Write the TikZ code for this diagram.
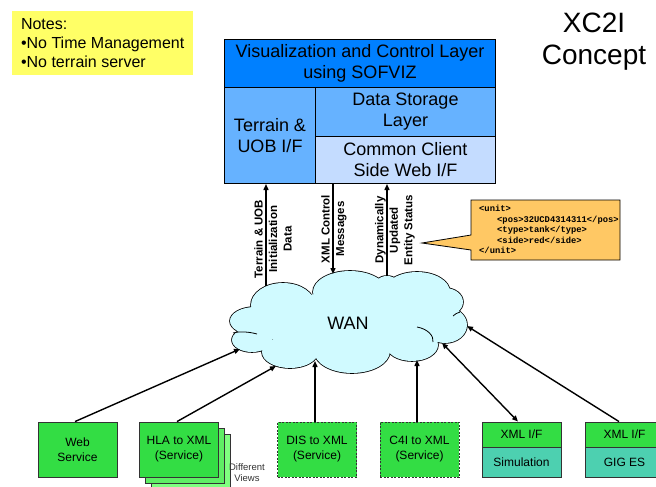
\documentclass[tikz,border=0pt]{standalone}
\usepackage{fontspec}
\setmainfont{Liberation Sans}
\newfontfamily\codefont{Liberation Mono}
\usetikzlibrary{arrows.meta}
\definecolor{vizblue}{RGB}{0,128,255}
\definecolor{midblue}{RGB}{102,178,255}
\definecolor{paleblue}{RGB}{196,220,255}
\definecolor{noteyellow}{RGB}{255,255,102}
\definecolor{boxgreen}{RGB}{51,221,68}
\definecolor{greentwo}{RGB}{95,238,100}
\definecolor{greenthree}{RGB}{128,255,128}
\definecolor{tealbox}{RGB}{77,208,176}
\definecolor{cloudcyan}{RGB}{208,250,255}
\definecolor{calloutorange}{RGB}{255,200,100}
\begin{document}
\begin{tikzpicture}[x=1pt,y=-1pt,
  layer/.style={draw=black, line width=1pt, align=center, inner sep=0pt,
    font=\fontsize{18}{21}\selectfont, anchor=north west},
  gbox/.style={draw=black!80, line width=0.9pt, fill=boxgreen, minimum width=79pt,
    minimum height=55pt, align=center, inner sep=0pt, font=\fontsize{12}{15}\selectfont},
  dashbox/.style={gbox, dash pattern=on 2pt off 1.5pt},
  vlabel/.style={rotate=90, align=center, inner sep=0pt,
    font=\bfseries\fontsize{11.5}{14.5}\selectfont},
  arr/.style={line width=1.4pt, -{Triangle[length=6pt,width=5pt]}},
  darr/.style={line width=1.4pt, {Triangle[length=6pt,width=5pt]}-{Triangle[length=6pt,width=5pt]}}
]
\useasboundingbox (0,0) rectangle (656,487);

% notes
\node[fill=noteyellow, anchor=north west, minimum width=181pt, minimum height=64pt,
  inner sep=0pt, align=left,
  font=\fontsize{16}{19}\selectfont] (notes) at (12,11)
  {Notes:\\•No Time Management\\•No terrain server};

% title
\node[anchor=north, inner sep=0pt, align=center, font=\fontsize{28}{32}\selectfont]
  (title) at (594,13) {XC2I\\Concept};

% top stack
\node[layer, fill=vizblue, minimum width=271pt, minimum height=48pt] (viz) at (224,39)
  {Visualization and Control Layer\\using SOFVIZ};
\node[layer, fill=midblue, minimum width=91pt, minimum height=96pt] (terrain) at (224,87)
  {Terrain \&\\UOB I/F};
\node[layer, fill=midblue, minimum width=180pt, minimum height=49pt] (data) at (315,87)
  {Data Storage\\Layer};
\node[layer, fill=paleblue, minimum width=180pt, minimum height=47pt] (common) at (315,136)
  {Common Client\\Side Web I/F};

% cloud
\begin{scope}
  \foreach \cx/\cy/\rx/\ry in {255/321/25/14, 252/340/20/12, 290/352/28/16, 352/351/38/22,
      412/345/26/16, 445/325/22/18, 445/302/18/14, 417/292/33/20, 350/292/37/21,
      283/305/32/22, 387/288/14/12}
    \draw[line width=1.6pt] (\cx,\cy) ellipse [x radius=\rx, y radius=\ry];
  \foreach \cx/\cy/\rx/\ry in {255/321/25/14, 252/340/20/12, 290/352/28/16, 352/351/38/22,
      412/345/26/16, 445/325/22/18, 445/302/18/14, 417/292/33/20, 350/292/37/21,
      283/305/32/22, 387/288/14/12, 350/322/95/30}
    \fill[cloudcyan] (\cx,\cy) ellipse [x radius=\rx, y radius=\ry];
  \draw[line width=0.8pt] (233,333) .. controls (240,331) and (250,332) .. (257,334);
  \draw[line width=0.8pt] (417,327) .. controls (428,329) and (434,336) .. (433,342);
  \draw[line width=0.8pt] (460,312) .. controls (457,313) and (455,314) .. (453,316);
\end{scope}
\node[font=\fontsize{18}{21}\selectfont] (wan) at (348,323) {WAN};

\coordinate (ct) at (266,286);
\coordinate (cx) at (333,274);
\coordinate (cy) at (387,276);
\coordinate (cw) at (240,349);
\coordinate (ch) at (276,366);
\coordinate (cd) at (315,361);
\coordinate (cc) at (417,360);
\coordinate (cs) at (442,343);
\coordinate (cg) at (467,326);

% top arrows
\draw[arr] (ct) -- (ct |- terrain.south);
\draw[arr] (cx |- common.south) -- (cx);
\draw[arr] (cy) -- (cy |- common.south);
\node[vlabel] (lblterrain) at (273,239) {Terrain \& UOB\\Initialization\\Data};
\node[vlabel] (lblxml) at (334,229) {XML Control\\Messages};
\node[vlabel] (lbldyn) at (395,230) {Dynamically\\Updated\\Entity Status};

% callout
\draw[fill=calloutorange, line width=0.8pt] (471,200) -- (620,200) -- (620,260) -- (471,260)
  -- (471,250) -- (422,243) -- (471,235) -- cycle;
\node[anchor=north west, inner sep=0pt, align=left,
  font=\codefont\bfseries\fontsize{8.8}{10.6}\selectfont] (xmltext) at (479,205)
  {<unit>\\\hspace*{18pt}<pos>32UCD4314311</pos>\\\hspace*{18pt}<type>tank</type>\\\hspace*{18pt}<side>red</side>\\</unit>};

% bottom boxes
\node[gbox] (web) at (77.5,449.5) {Web\\Service};
\node[gbox, fill=greenthree] (hlathree) at (191,461.5) {};
\node[gbox, fill=greentwo] (hlatwo) at (185,455.5) {};
\node[gbox] (hla) at (179,449.5) {HLA to XML\\(Service)};
\node[font=\fontsize{9.5}{11}\selectfont, align=center, inner sep=0pt, text=black!80]
  (views) at (247,472.5) {Different\\Views};
\node[dashbox] (dis) at (317,449.5) {DIS to XML\\(Service)};
\node[dashbox] (cfouri) at (419.5,449.5) {C4I to XML\\(Service)};
\node[gbox, minimum height=25pt] (simif) at (521.5,434.5) {XML I/F};
\node[gbox, fill=tealbox, minimum height=30pt] (sim) at (521.5,462) {Simulation};
\node[gbox, minimum height=25pt] (gigif) at (624.5,434.5) {XML I/F};
\node[gbox, fill=tealbox, minimum height=30pt] (gig) at (624.5,462) {GIG ES};

% bottom arrows
\draw[arr] ([xshift=-2.5pt]web.north) -- (cw);
\draw[arr] ([xshift=-2pt]hla.north) -- (ch);
\draw[arr] (cd |- dis.north) -- (cd);
\draw[arr] (cc |- cfouri.north) -- (cc);
\draw[darr] ([xshift=-3.5pt]simif.north) -- (cs);
\draw[arr] ([xshift=-5.5pt]gigif.north) -- (cg);
\end{tikzpicture}
\end{document}
